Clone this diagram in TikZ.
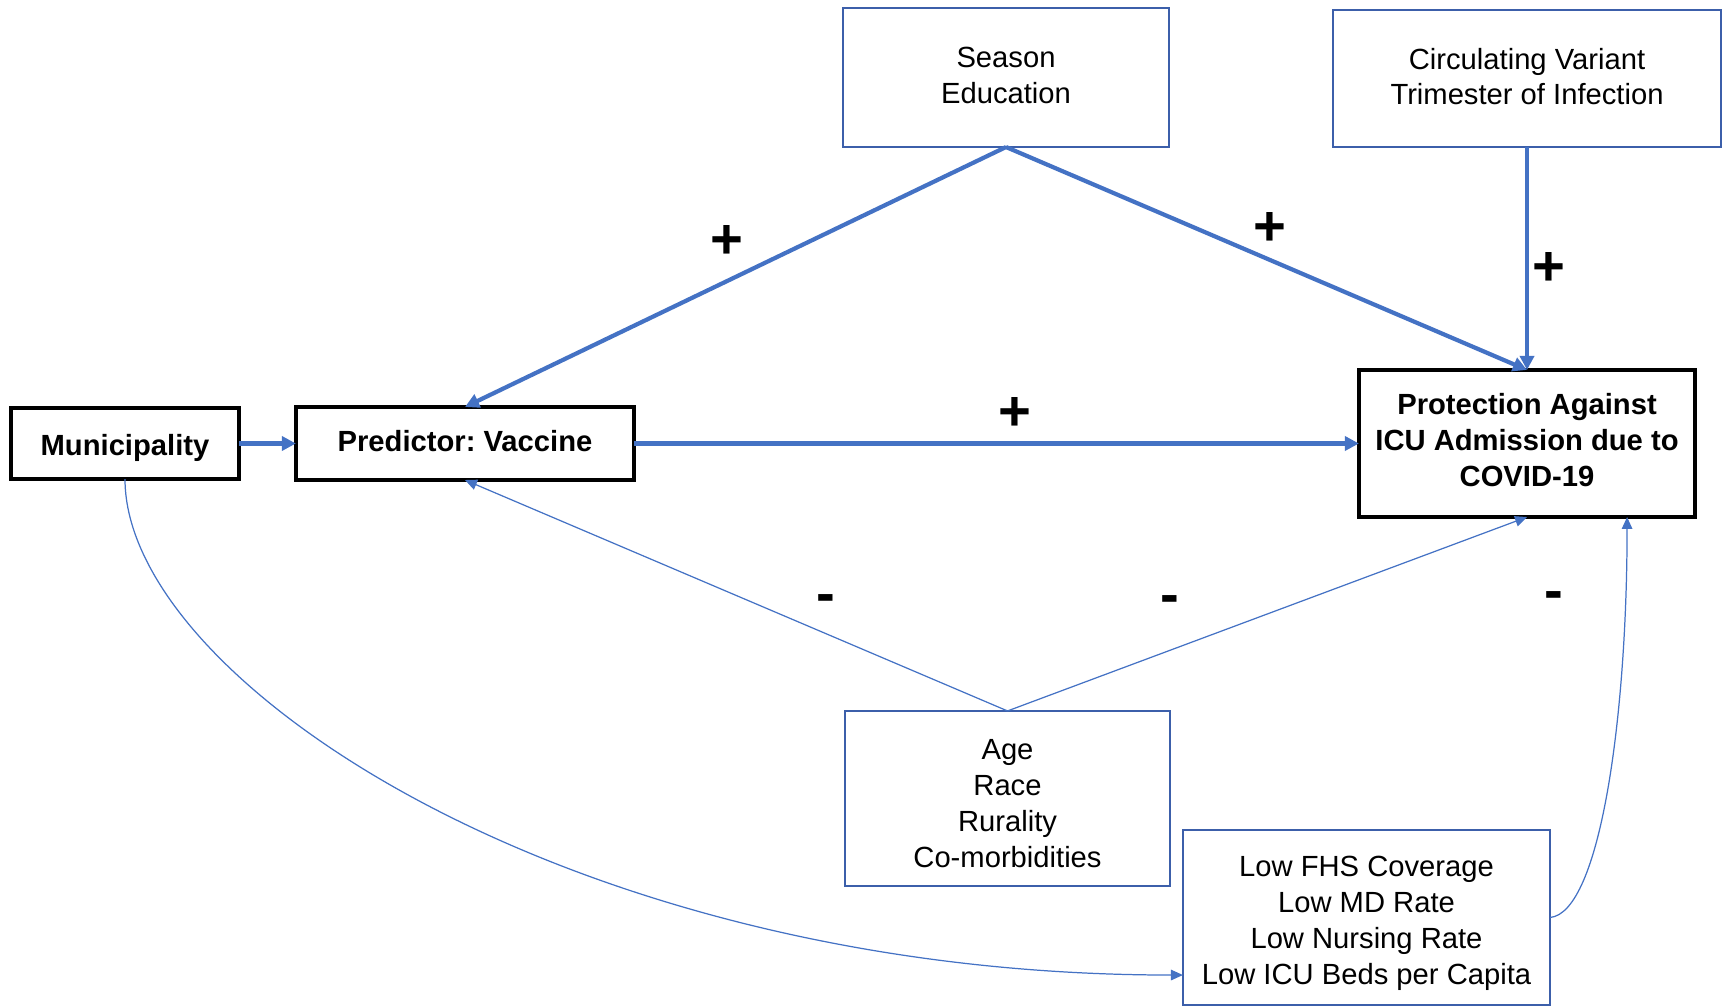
\documentclass[tikz,border=0pt]{standalone}
\usepackage{fontspec}
\setmainfont{Liberation Sans}
\usetikzlibrary{arrows.meta,positioning,calc}

\definecolor{linkblue}{RGB}{68,114,196}
\definecolor{boxblue}{RGB}{60,95,170}

\begin{document}
\begin{tikzpicture}[x=0.01cm, y=-0.01cm, >={Triangle[length=4pt,width=4pt]},
        mainbox/.style={draw=black, line width=1.3pt, inner sep=0pt, outer sep=0pt, align=center, font=\fontsize{8.3}{10.2}\selectfont\bfseries},
        sidebox/.style={draw=boxblue, line width=0.5pt, inner sep=0pt, outer sep=0pt, align=center, font=\fontsize{8.3}{10.2}\selectfont},
        strong/.style={->, draw=linkblue, line width=1.2pt},
        weak/.style={-{Triangle[length=3.4pt,width=3pt]}, draw=linkblue, line width=0.35pt},
        sign/.style={font=\fontsize{16}{16}\selectfont\bfseries}]
        \useasboundingbox (0,0) rectangle (1722,1007);
        % boxes
        \node[mainbox, minimum width=2.28cm, minimum height=0.71cm] (muni) at (125,443.5) {\rule{0pt}{8.6pt}Municipality};
        \node[mainbox, minimum width=3.38cm, minimum height=0.73cm] (pred) at (465,443.5) {Predictor:\ Vaccine\rule[-1.2pt]{0pt}{0pt}};
        \node[mainbox, minimum width=3.36cm, minimum height=1.47cm] (prot) at (1527,443.5) {Protection Against\\ICU Admission due to\\COVID-19\rule[-1.9pt]{0pt}{0pt}};
        \node[sidebox, minimum width=3.26cm, minimum height=1.39cm] (season) at (1006,77.5) {Season\\Education\rule[-1.2pt]{0pt}{0pt}};
        \node[sidebox, minimum width=3.88cm, minimum height=1.37cm] (circ) at (1527,78.5) {Circulating Variant\\Trimester of Infection\rule[-1.2pt]{0pt}{0pt}};
        \node[sidebox, minimum width=3.25cm, minimum height=1.75cm] (age) at (1007.5,798.5) {\rule{0pt}{8.5pt}Age\\Race\\Rurality\\Co-morbidities};
        \node[sidebox, minimum width=3.67cm, minimum height=1.75cm] (fhs) at (1366.5,917.5) {\rule{0pt}{9.2pt}Low FHS Coverage\\Low MD Rate\\Low Nursing Rate\\Low ICU Beds per Capita};
        \coordinate (fhsin) at ([yshift=0.3cm]fhs.south west);
        \coordinate (protin) at ([xshift=-0.68cm]prot.south east);
        % connectors
        \draw[strong] (muni) -- (pred);
        \draw[strong] (season.south) -- (pred.north);
        \draw[strong] (season.south) -- (prot.north);
        \draw[strong] (circ.south) -- (prot.north);
        \draw[strong] (pred) -- (prot);
        \draw[weak] (age.north) -- (pred.south);
        \draw[weak] (age.north) -- (prot.south);
        \draw[weak] (muni.south) .. controls +(0,201) and +(-615,0) .. (fhsin);
        \draw[weak] (fhs.east) .. controls +(50,-5) and +(0,200) .. (protin);
        % signs
        \node[sign] (p1) at (727,242) {+};
        \node[sign] (p2) at (1270,229) {+};
        \node[sign] (p3) at (1549,269) {+};
        \node[sign] (p4) at (1015,414) {+};
        \node[sign] (m1) at (826,604) {-};
        \node[sign] (m2) at (1170,605) {-};
        \node[sign] (m3) at (1554,601) {-};
      \end{tikzpicture}
\end{document}
